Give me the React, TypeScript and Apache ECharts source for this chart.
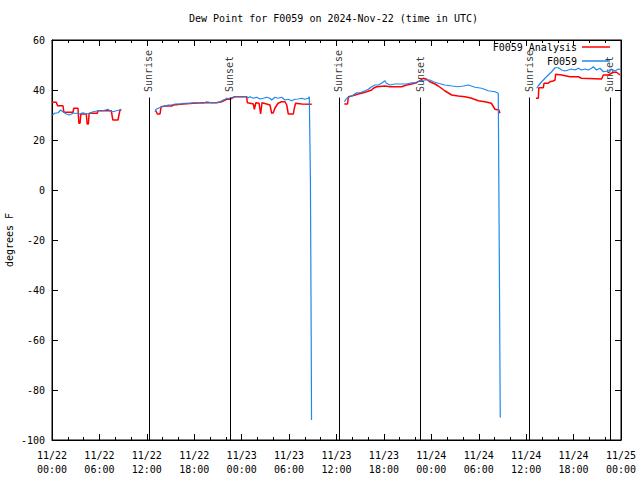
import React, { useEffect, useRef } from 'react';
import * as echarts from 'echarts';

const chartTitle = 'Dew Point for F0059 on 2024-Nov-22 (time in UTC)';
const yAxisName = 'degrees F';
const analysisName = 'F0059 Analysis';
const obsName = 'F0059';

// x in hours since 2024-11-22 00:00 UTC
const xMin = 0;
const xMax = 72;
const xStep = 6;
const yMin = -100;
const yMax = 60;
const yStep = 20;

const eventNames = ['Sunrise', 'Sunset', 'Sunrise', 'Sunset', 'Sunrise', 'Sunset'];
const eventHours = [12.27, 22.52, 36.3, 46.65, 60.36, 70.6];
const eventLineTop = 37;
const eventLabelBase = 39.2;

const analysis: (number | null)[][] = [
  [0, 35.1], [0.55, 35.1], [0.7, 33.7], [1.39, 33.7], [1.5, 31.1], [2.66, 31.1], [2.75, 32.7], [3.29, 32.7],
  [3.4, 26.7], [3.55, 26.7], [3.65, 30.4], [4.34, 30.4], [4.45, 26.4], [4.6, 26.4], [4.7, 30.7], [5.74, 30.7],
  [5.8, 31.7], [7.5, 31.7], [7.7, 28], [8.35, 28], [8.6, 32], [8.77, 32],
  [10, null],
  [13.16, 31.7], [13.33, 30.4], [13.67, 30.4], [13.8, 33.3], [14.3, 33.6], [15.14, 33.6], [15.35, 34],
  [16.6, 34.4], [17.88, 34.7], [19.15, 34.9], [20.8, 34.9], [21.47, 35.3], [22.1, 36.3], [22.52, 36.3],
  [23.1, 37.3], [24.63, 37.3], [24.72, 34.9], [25.06, 34.7], [25.48, 34.4], [25.6, 32.3], [25.8, 34.9],
  [26.2, 34.7], [26.4, 30.4], [26.57, 34.9], [27.16, 34.4], [27.58, 34], [27.8, 30.7], [28.0, 30.9],
  [28.2, 32.7], [28.6, 34.7], [29.06, 35.3], [29.48, 35.3], [29.7, 34], [29.9, 30.4], [30.54, 30.4],
  [30.66, 32.7], [30.83, 34.7], [31.6, 34.4], [32.86, 34.3],
  [34, null],
  [36.99, 34.4], [37.4, 34.4], [37.5, 37.3], [37.92, 37.6], [38.34, 38], [38.76, 38.4], [39.18, 38.7],
  [39.8, 39.3], [40.45, 40], [40.66, 40.7], [41.08, 41.3], [42.12, 41.6], [42.77, 41.3], [44.25, 41.3],
  [44.88, 42], [45.5, 42.4], [46.14, 42.9], [46.98, 44.7], [47.4, 44.3], [47.8, 43.3], [48.46, 42.4],
  [48.88, 41.6], [49.7, 39.7], [50.57, 38], [51.4, 37.6], [52.26, 37.3], [53.1, 36.7], [53.94, 35.7],
  [54.78, 35.3], [55.6, 34.7], [56.05, 32.3], [56.55, 32], [56.68, 30.7],
  [59, null],
  [61.24, 36.7], [61.54, 36.7], [61.6, 40.9], [62.17, 40.9], [62.26, 42.7], [62.8, 42.7], [63.0, 43.3],
  [63.4, 43.6], [63.65, 44], [63.73, 46.3], [64.49, 46], [65.54, 45.3], [66.6, 45.3], [67.0, 44.7],
  [69.55, 44.4], [69.76, 46], [70.4, 46], [71.03, 47.1], [71.45, 47.1], [71.87, 46]
];

const observed: (number | null)[][] = [
  [0.05, 30], [0.34, 30.7], [0.76, 30.9], [1.1, 32], [1.39, 31.3], [1.81, 30.4], [2.24, 30], [2.66, 30.7],
  [3.08, 30.7], [3.5, 30.4], [3.92, 30.9], [4.34, 30.4], [4.77, 30.7], [5.19, 31.3], [5.82, 31.7],
  [6.45, 31.7], [7.09, 32.3], [7.3, 31.7], [7.72, 31.3], [8.14, 31.7], [8.56, 32], [8.77, 32.3],
  [10, null],
  [13.03, 31.3], [13.16, 32.3], [13.46, 32.7], [13.88, 33.3], [14.3, 33.6], [14.72, 34], [15.14, 34],
  [15.56, 34.4], [16.2, 34.4], [16.6, 34.7], [17.04, 34.7], [17.46, 34.7], [17.88, 34.9], [18.5, 34.9],
  [19.15, 34.7], [19.57, 35.3], [20.2, 34.9], [20.8, 34.9], [21.26, 35.3], [21.68, 36], [21.9, 36.3],
  [22.1, 36.7], [22.52, 36.7], [23.16, 37.3], [24.63, 37.3], [24.85, 36.9], [25.06, 37.3], [25.48, 36.7],
  [25.9, 37.1], [26.32, 36.4], [26.74, 36.7], [27.16, 37.1], [27.58, 36.7], [27.8, 36], [28.2, 37.1],
  [28.6, 36.7], [29.06, 37.1], [29.48, 36], [29.9, 36.3], [30.3, 35.7], [30.75, 36.3], [31.17, 36.4],
  [31.6, 36.7], [32.0, 36.3], [32.43, 36.7], [32.56, 37.3], [32.7, 4], [32.8, -60], [32.84, -92],
  [34, null],
  [36.99, 35.3], [37.29, 36.7], [37.71, 37.3], [38.13, 38], [38.55, 38.9], [38.97, 38.9], [39.6, 39.7],
  [40.03, 40.3], [40.45, 41.3], [40.87, 42], [41.3, 42], [41.7, 42.7], [42.12, 43.7], [42.3, 42.7],
  [42.77, 42], [43.4, 42.4], [44.25, 42.4], [44.88, 42.4], [45.5, 42.9], [45.93, 42.9], [46.56, 43.7],
  [47.2, 44], [47.8, 44], [48.25, 43.3], [48.88, 42.7], [49.7, 42], [50.57, 41.6], [51.4, 41.3],
  [52.05, 41.6], [52.68, 42], [53.52, 41.1], [54.36, 40.7], [55.2, 39.7], [56.05, 39.3], [56.47, 38.7],
  [56.6, -26], [56.72, -91],
  [59, null],
  [61.33, 40.7], [61.54, 41.7], [61.96, 43.3], [62.38, 44.7], [62.8, 46], [63.22, 47.3], [63.65, 48.9],
  [64.07, 48.9], [64.49, 48], [64.91, 47.6], [65.33, 48], [65.75, 48.4], [66.18, 48], [66.6, 48.7],
  [67.0, 48], [67.44, 48.4], [67.86, 48], [68.28, 48.7], [68.5, 49.3], [68.9, 48], [69.34, 48.7],
  [69.76, 47.3], [70.4, 47.6], [70.8, 48.4], [71.24, 47.6], [71.66, 48.4], [72, 48.1]
];

const FONT = 'DejaVu Sans Mono';
const RED = '#ff0000';
const BLUE = '#1e88ee';

function pad2(n: number) {
  return n < 10 ? '0' + n : '' + n;
}

function xLabel(v: number) {
  const day = 22 + Math.floor(v / 24);
  const hh = v % 24;
  return '11/' + day + '\n' + pad2(hh) + ':00';
}

export default function App() {
  const ref = useRef<HTMLDivElement>(null);
  useEffect(() => {
    if (!ref.current) return;
    const chart = echarts.init(ref.current, undefined, { renderer: 'svg' });
    const axisCommon = {
      axisLine: { show: true, onZero: false, lineStyle: { color: '#000', width: 1 } },
      axisTick: { show: true, inside: true, length: 6, lineStyle: { color: '#000', width: 1 } },
      splitLine: { show: false },
    };
    const textStyle = { fontFamily: FONT, fontSize: 10, color: '#000' };
    chart.setOption({
      animation: false,
      backgroundColor: '#fff',
      title: {
        text: chartTitle,
        left: 189,
        top: 13,
        padding: 0,
        textStyle: { ...textStyle, fontWeight: 'normal' },
      },
      legend: [
        {
          data: [analysisName],
          right: 30,
          top: 42,
          padding: 0,
          align: 'right',
          icon: 'rect',
          itemWidth: 28,
          itemHeight: 1.5,
          selectedMode: false,
          textStyle,
        },
        {
          data: [obsName],
          right: 30,
          top: 56,
          padding: 0,
          align: 'right',
          icon: 'rect',
          itemWidth: 28,
          itemHeight: 1.5,
          selectedMode: false,
          textStyle,
        },
      ],
      grid: {
        left: 52,
        right: 19,
        top: 40,
        bottom: 40,
        containLabel: false,
        outerBoundsMode: 'none',
        show: true,
        borderColor: '#000',
        borderWidth: 1,
      },
      xAxis: [
        {
          type: 'value',
          min: xMin,
          max: xMax,
          interval: xStep,
          position: 'bottom',
          ...axisCommon,
          minorTick: { show: true, splitNumber: 3, length: 3, lineStyle: { color: '#000' } },
          axisLabel: { ...textStyle, formatter: xLabel, lineHeight: 14, margin: 8 },
        },
        {
          type: 'value',
          min: xMin,
          max: xMax,
          interval: xStep,
          position: 'top',
          ...axisCommon,
          minorTick: { show: true, splitNumber: 3, length: 3, lineStyle: { color: '#000' } },
          axisLabel: { show: false },
        },
      ],
      yAxis: [
        {
          type: 'value',
          min: yMin,
          max: yMax,
          interval: yStep,
          position: 'left',
          ...axisCommon,
          name: yAxisName,
          nameLocation: 'middle',
          nameGap: 38,
          nameMoveOverlap: false,
          nameTextStyle: textStyle,
          axisLabel: { ...textStyle, margin: 7 },
        },
        {
          type: 'value',
          min: yMin,
          max: yMax,
          interval: yStep,
          position: 'right',
          ...axisCommon,
          axisLabel: { show: false },
        },
      ],
      series: [
        {
          name: 'events',
          type: 'scatter',
          xAxisIndex: 0,
          yAxisIndex: 0,
          symbolSize: 0,
          silent: true,
          data: eventNames.map((n, i) => [eventHours[i], eventLabelBase, n]),
          label: {
            show: true,
            position: 'inside',
            rotate: 90,
            align: 'left',
            verticalAlign: 'middle',
            formatter: (p: any) => p.value[2],
            ...textStyle,
          },
          markLine: {
            silent: true,
            symbol: ['none', 'none'],
            label: { show: false },
            lineStyle: { color: '#000', width: 1, type: 'solid' },
            data: eventHours.map((h) => [{ coord: [h, eventLineTop] }, { coord: [h, yMin] }]),
          },
          z: 1,
        },
        {
          name: analysisName,
          type: 'line',
          xAxisIndex: 0,
          yAxisIndex: 0,
          data: analysis,
          symbol: 'none',
          showSymbol: false,
          connectNulls: false,
          silent: true,
          color: RED,
          lineStyle: { color: RED, width: 1.5 },
          itemStyle: { color: RED },
          z: 2,
        },
        {
          name: obsName,
          type: 'line',
          xAxisIndex: 0,
          yAxisIndex: 0,
          data: observed,
          symbol: 'none',
          showSymbol: false,
          connectNulls: false,
          silent: true,
          color: BLUE,
          lineStyle: { color: BLUE, width: 1.2 },
          itemStyle: { color: BLUE },
          z: 3,
        },
      ],
    });
    return () => chart.dispose();
  }, []);
  return (
    <div
      ref={ref}
      style={{ position: 'fixed', left: 0, top: 0, width: 640, height: 480, background: '#fff' }}
    />
  );
}
